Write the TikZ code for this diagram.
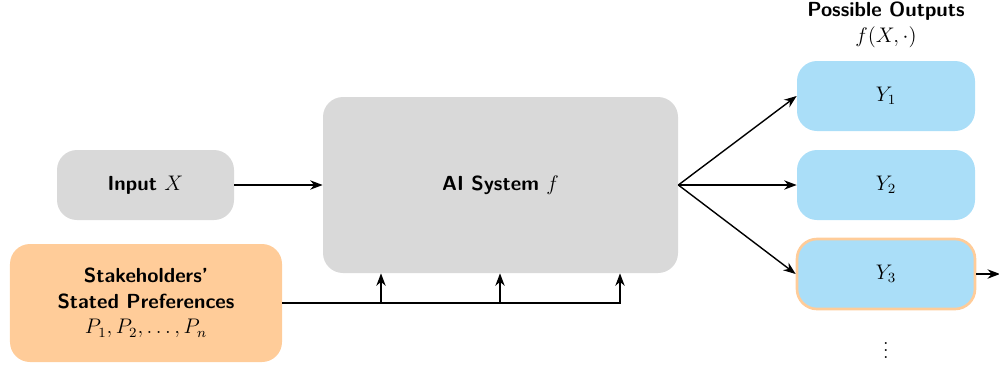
\documentclass[tikz,border=0pt]{standalone}
\usetikzlibrary{positioning,arrows.meta}
\definecolor{boxgray}{RGB}{217,217,217}
\definecolor{outblue}{RGB}{170,222,248}
\definecolor{prefor}{RGB}{255,204,153}
\newcommand{\bodysize}{\fontsize{11.6}{14.6}\selectfont}

\begin{document}
\begin{tikzpicture}[
  every node/.style={font=\bodysize},
  box/.style={rounded corners=0.4cm, align=center, font=\bodysize\sffamily\bfseries},
  outbox/.style={box, fill=outblue, minimum width=3.56cm, minimum height=1.4cm},
  link/.style={thick, -{Stealth[length=2.5mm]}}
]
\useasboundingbox (0,0) rectangle (19.98,7.32);

% inputs
\node[box, fill=boxgray, minimum width=3.54cm, minimum height=1.4cm] (input) at (2.91,3.62) {Input $X$};
\node[box, fill=prefor, minimum width=5.44cm, minimum height=2.36cm] (prefs) at (2.92,1.26)
  {Stakeholders'\\ Stated Preferences\\ $P_1, P_2, \ldots, P_n$};

% system
\node[box, fill=boxgray, minimum width=7.1cm, minimum height=3.52cm] (ai) at (10.01,3.62) {AI System $f$};

% outputs
\node[align=center] (head) at (17.72,6.82) {\sffamily\bfseries Possible Outputs\\ $f(X,\cdot)$};
\node[outbox] (y1) at (17.72,5.40) {$Y_1$};
\node[outbox] (y2) at (17.72,3.62) {$Y_2$};
\node[outbox, draw=prefor, line width=1.5pt] (y3) at (17.72,1.84) {$Y_3$};
\node (dots) at (17.72,0.42) {$\vdots$};
\coordinate (out) at (20.0,1.84);

\draw[link] (input) -- (ai);
\foreach \y in {y1,y2,y3}
  \draw[link] (ai.east) -- (\y.west);
\draw[link] (y3) -- (out);

\foreach \x in {7.62,10.0,12.4}
  \draw[link] (prefs.east) -| (\x,0 |- ai.south);
\end{tikzpicture}
\end{document}
